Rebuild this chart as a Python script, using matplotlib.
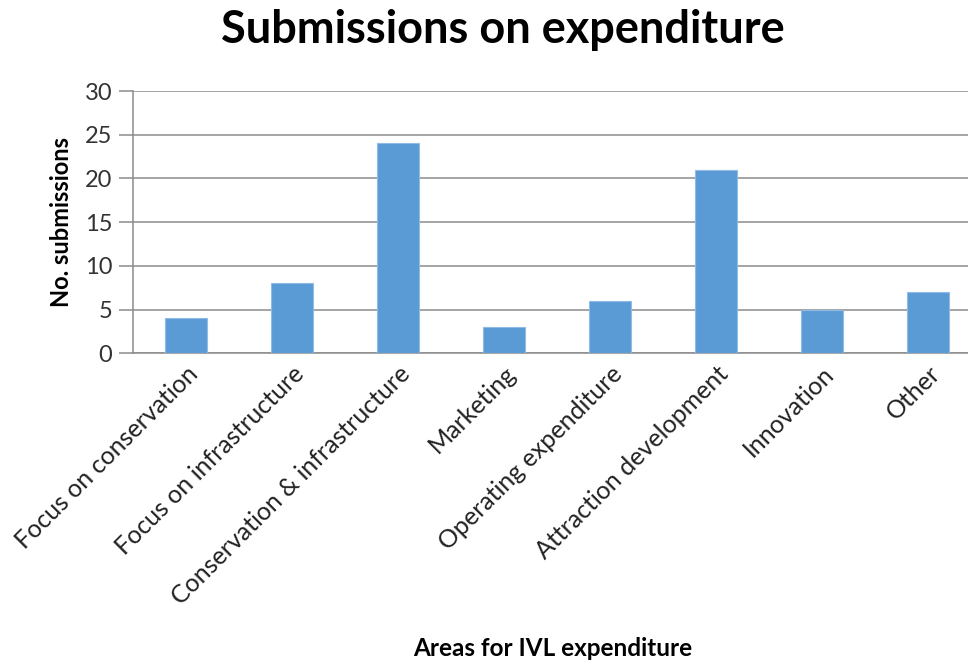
import matplotlib
matplotlib.use("Agg")
import matplotlib.pyplot as plt
import numpy as np

categories = [
    "Focus on conservation",
    "Focus on infrastructure",
    "Conservation & infrastructure",
    "Marketing",
    "Operating expenditure",
    "Attraction development",
    "Innovation",
    "Other",
]
submissions = [4, 8, 24, 3, 6, 21, 5, 7]
y_ticks = [0, 5, 10, 15, 20, 25, 30]

plt.rcParams["font.family"] = ["Lato", "DejaVu Sans"]

W, H = 968, 662
fig = plt.figure(figsize=(W / 100, H / 100), dpi=100)
fig.patch.set_facecolor("white")

left_px, right_px = 133, 981
top_px, bottom_px = 91, 353.3
ax = fig.add_axes([left_px / W, 1 - bottom_px / H,
                   (right_px - left_px) / W, (bottom_px - top_px) / H])

grid_color = "#8c8c8c"
x = np.arange(len(categories))
ax.bar(x, submissions, width=0.4, color="#5b9bd5", edgecolor="#8fbbe6",
       linewidth=0.8, zorder=3)

ax.set_xlim(-0.5, len(categories) - 0.5)
ax.set_ylim(0, 30)
ax.set_yticks(y_ticks)
ax.set_yticklabels([str(t) for t in y_ticks], fontsize=17, color="#333333")
ax.yaxis.grid(True, color=grid_color, linewidth=1.1, zorder=0)
ax.set_axisbelow(True)

for side in ("top", "right"):
    ax.spines[side].set_visible(False)
ax.spines["left"].set_color(grid_color)
ax.spines["left"].set_linewidth(1.1)
ax.spines["bottom"].set_color(grid_color)
ax.spines["bottom"].set_linewidth(1.1)

ax.tick_params(axis="y", length=10, width=1.1, color=grid_color, pad=5)
ax.tick_params(axis="x", length=0, pad=6)

ax.set_xticks(x)
ax.set_xticklabels(categories, rotation=45, ha="right", va="top",
                   rotation_mode="anchor", fontsize=18, color="#222222")

ax.set_ylabel("No. submissions", fontsize=17, fontweight="bold")
ax.yaxis.set_label_coords(-60 / (right_px - left_px), 0.5)

fig.text(553 / W, 1 - 648 / H, "Areas for IVL expenditure", ha="center",
         va="center", fontsize=17.5, fontweight="bold")
fig.text(503 / W, 1 - 30 / H, "Submissions on expenditure", ha="center",
         va="center", fontsize=32.5, fontweight="bold")

fig.savefig("out.png", dpi=100, facecolor="white")
